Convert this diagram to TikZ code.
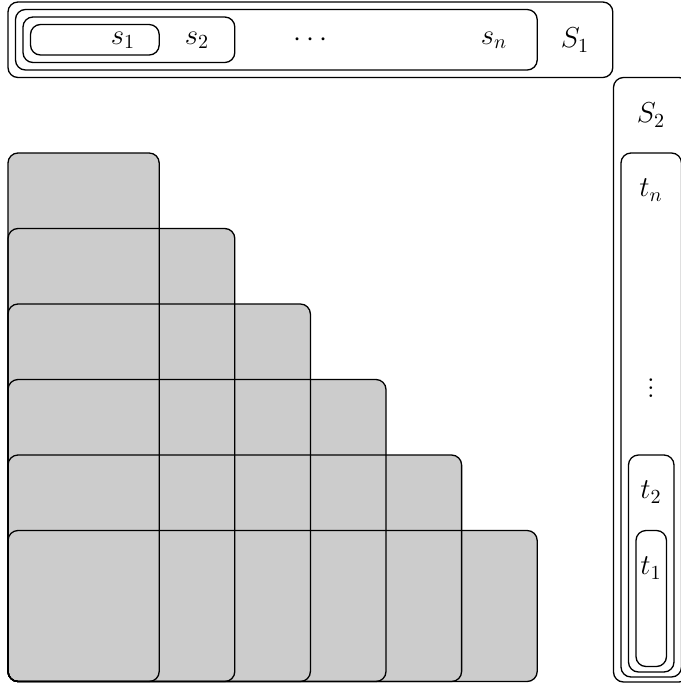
\documentclass[tikz,border=0pt]{standalone}
\begin{document}
\begin{tikzpicture}[x=0.5pt,y=-0.5pt,
  cell/.style={fill=black!20,draw=none,rounded corners=5pt},
  celledge/.style={draw=black,line width=0.65pt,rounded corners=5pt},
  setbox/.style={draw=black,line width=0.65pt,rounded corners=5pt},
  lbl/.style={inner sep=0pt,font=\fontsize{14}{16}\selectfont}]
\useasboundingbox (0,0) rectangle (681,687);
\clip (0,0) rectangle (681,687);
% staircase: fills first, then outlines
\foreach \k in {1,...,6}{
  \fill[cell] (8,{2+75.5*(\k+1)}) rectangle ({8+75.6*(\k+1)},681.5);
}
\foreach \k in {1,...,6}{
  \draw[celledge] (8,{2+75.5*(\k+1)}) rectangle ({8+75.6*(\k+1)},681.5);
}
% top row of nested sets
\draw[setbox] (8,2) rectangle (612.8,77.5);
\draw[setbox] (15.5,9.5) rectangle (537.2,70);
\draw[setbox] (23,17) rectangle (234.8,62.5);
\draw[setbox] (30.5,24.5) rectangle (159.2,55);
\node[lbl] (s1) at (123,40) {$s_1$};
\node[lbl] (s2) at (197,40) {$s_2$};
\node[lbl] (sd) at (310.4,40) {$\cdots$};
\node[lbl] (sn) at (494,40) {$s_n$};
\node[lbl] (S1) at (575,40) {$S_1$};
% right column of nested sets
\draw[setbox] (613.5,77.5) rectangle (689,682);
\draw[setbox] (621,153) rectangle (681.5,677);
\draw[setbox] (628.5,455) rectangle (674,672);
\draw[setbox] (636,530.5) rectangle (666.5,666.5);
\node[lbl] (S2) at (651,115) {$S_2$};
\node[lbl] (tn) at (651,190) {$t_n$};
\node[lbl] (td) at (651,382) {$\vdots$};
\node[lbl] (t2) at (651,492) {$t_2$};
\node[lbl] (t1) at (651,568) {$t_1$};
\end{tikzpicture}
\end{document}
